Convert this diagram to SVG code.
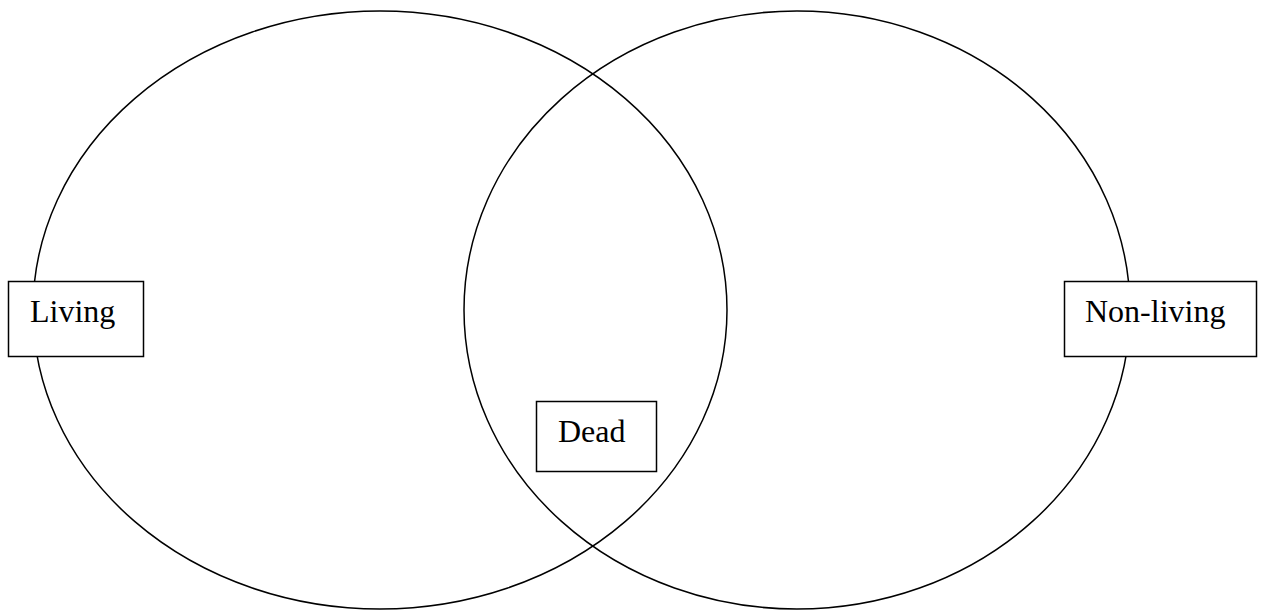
<svg xmlns="http://www.w3.org/2000/svg" width="1261" height="610" viewBox="0 0 1261 610">
  <style>
    .circle { fill: none; stroke: #000; stroke-width: 1.5; }
    .box { fill: #fff; stroke: #000; stroke-width: 1.5; }
    .label { font-family: "Liberation Serif", "Times New Roman", serif; font-size: 32px; fill: #000; }
  </style>
  <rect width="1261" height="610" fill="#fff"/>
  <g id="sets">
    <ellipse id="set-living" class="circle" cx="380" cy="310" rx="347" ry="299"/>
    <ellipse id="set-nonliving" class="circle" cx="797" cy="310" rx="333" ry="299"/>
  </g>
  <g id="node-living">
    <rect class="box" x="8.5" y="281.5" width="135" height="75"/>
    <text class="label" x="30" y="322">Living</text>
  </g>
  <g id="node-nonliving">
    <rect class="box" x="1064.5" y="281.5" width="192" height="75"/>
    <text class="label" x="1085" y="322">Non-living</text>
  </g>
  <g id="node-dead">
    <rect class="box" x="536.5" y="401.5" width="120" height="70"/>
    <text class="label" x="558" y="442">Dead</text>
  </g>
</svg>
